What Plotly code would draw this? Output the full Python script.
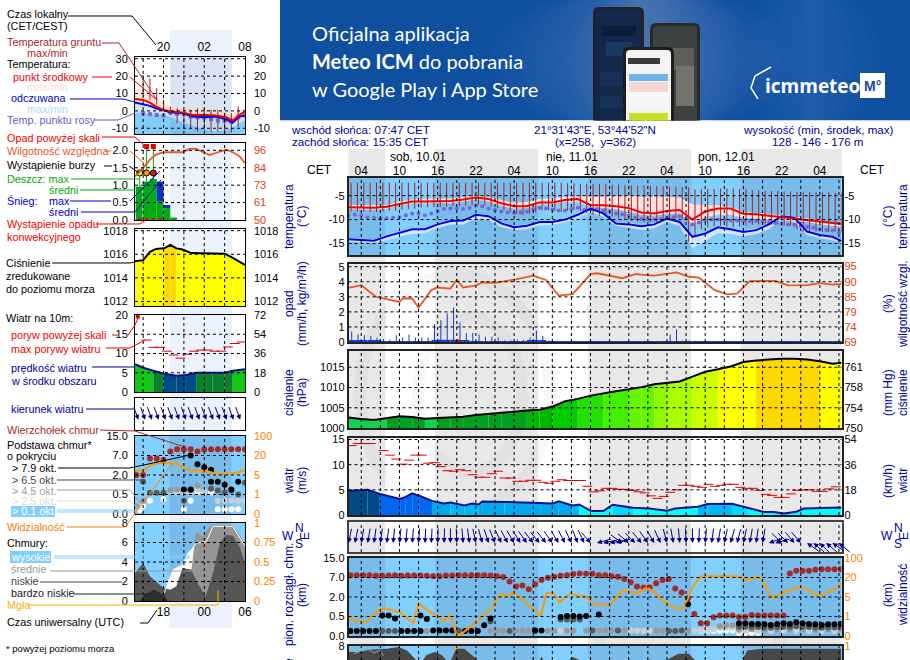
"""Meteogram page: legend column, forecast panels, app banner."""

import math

import plotly.graph_objects as go

# ---- time axes ------------------------------------------------------------
main_hours = list(range(2, 80))
step_hours = list(range(2, 80, 2)) + [79.4]
left_hours = list(range(16, 33))
sunrise_main = [7.78, 31.78, 55.78]
sunset_main = [15.58, 39.58, 63.58]

# ---- main temperature (deg C), 2-hourly ------------------------------------
temp_mid = [-7.4, -7.5, -7.5, -7.3, -6.7, -6.2, -6.2, -6.1, -6.1, -5.8, -5.4, -5.7, -6.6, -7.2, -7.2, -6.4, -6.4, -5.9, -5.7, -7, -7, -7.2, -7.6, -8.5, -8.7, -8.2, -8, -10, -8.3, -7.7, -7.7, -8.8, -8.9, -9.2, -9.5, -9.7, -10, -10.4, -10.7, -10.9]
temp_hi = [-7, -7, -7, -7, -6.2, -5.8, -5.7, -5.6, -5.6, -5.3, -5, -5.2, -5.9, -6.5, -6.3, -5.7, -5.6, -5.2, -5, -5.2, -5.2, -5.1, -5.1, -5.2, -5.2, -5.2, -5.4, -6.8, -7, -7, -7.3, -8.4, -8.6, -8.9, -9.1, -9.4, -9.7, -10.2, -10.6, -10.8]
temp_lo = [-7.8, -7.9, -7.9, -7.7, -7.1, -6.6, -6.6, -6.5, -6.6, -6.2, -5.8, -6.2, -7.1, -7.7, -7.6, -6.8, -6.8, -6.3, -6.2, -7.4, -7.5, -7.8, -8.4, -9, -9.2, -8.8, -8.7, -10.9, -9.5, -9, -9, -9.6, -9.7, -10, -10.1, -10.3, -10.5, -11, -11.3, -11.4]
feels_mid = [-14.1, -14.3, -14.4, -13.5, -12.8, -12, -12, -11, -10.3, -10.2, -9, -9.3, -10.8, -11.6, -11.3, -10.5, -10.5, -10, -9, -7.7, -8.7, -10.8, -11, -11.4, -11, -9.8, -10.5, -13.6, -12.9, -11.6, -12, -12.6, -12.2, -11, -9.3, -9.6, -12.5, -13.2, -13.6, -14.5]
feels_hi = [-13.9, -14, -14.1, -13.2, -12.5, -11.7, -11.7, -10.7, -10, -9.9, -8.7, -9, -10.5, -11.3, -11, -10.2, -10.2, -9.7, -8.7, -7.4, -8.4, -10.5, -10.7, -11.1, -10.7, -9.5, -10.2, -13.2, -12.5, -11.3, -11.7, -12.3, -11.8, -10.6, -9, -9.3, -12.2, -12.9, -13.3, -14.2]
feels_lo = [-14.6, -14.8, -14.9, -14.3, -13.6, -13, -12.8, -11.8, -11, -11, -9.8, -10.1, -11.6, -12.2, -12, -11.2, -11.1, -10.6, -9.7, -8.4, -9.4, -11.3, -11.7, -12.2, -11.8, -10.5, -11.3, -16, -14.5, -12.8, -13, -13.5, -13, -12, -10, -10.5, -13.2, -13.9, -14.3, -15]
dew_point = [-9.2, -9, -9.1, -9.5, -9.6, -9.7, -9.7, -9.6, -9.5, -9.1, -8.8, -8.8, -9.1, -8.7, -8.2, -7.8, -7.7, -7.7, -7.8, -7.6, -7.1, -7.2, -7.7, -8, -8.3, -8.5, -8.6, -8.5, -8.3, -7.9, -7.6, -7.7, -7.9, -8.1, -8.1, -7.8, -7.5, -8, -7.9, -7.8, -8.1, -8.4, -8.7, -8.9, -9.2, -9.6, -9.9, -10, -10, -9.9, -9.6, -9.5, -9.3, -9.8, -11, -10.6, -10.2, -10, -10, -10.1, -10.2, -10.2, -10.3, -10.3, -10.3, -10.4, -10.6, -10.7, -10.9, -11, -11.1, -11.3, -11.5, -11.7, -12, -12.2, -12.3, -12.7]
ground_top = [-2.3] * 34 + [-2.4, -2.4, -2.5, -2.5, -2.6, -2.6, -2.6, -2.7, -2.7, -2.8, -2.8, -2.9, -2.9, -3, -3, -3, -3.1, -3.1, -3.2, -3.3, -3.7, -3.7, -3.6, -3.6, -3.5, -3.5, -3.5, -3.6, -3.7, -3.8, -3.9, -4, -4, -4, -4.1, -4.1, -4.2, -4.2, -4.2, -4.3, -4.3, -4.3, -4.4, -4.4]
ground_bottom = [-8.3, -8.3, -8.4, -8.4, -8.4, -8.3, -8.2, -8.1, -7.9, -7.8, -7.7, -7.5, -7.4, -7.4, -7.4, -7.3, -7.2, -7.2, -7.1, -7, -6.9, -7, -7.2, -7.6, -8, -8.4, -8.8, -9, -8.8, -8.5, -8.1, -8, -8.2, -8.4, -8.1, -8, -8.2, -8.6, -9, -9.2, -9.2, -9.4, -9.7, -10, -10.2, -10.4, -10.5, -10.6, -10.5, -10.3, -10.1, -9.8, -9.9, -14.6, -13.2, -12, -11.6, -11.4, -11.3, -11.5, -11.5, -11.4, -11.2, -11.1, -11, -11.1, -11.1, -11, -11.2, -11.4, -12, -12.5, -12.5, -12.5, -12.6, -12.6, -12.5, -12.5]

# ---- main precipitation and humidity ----------------------------------------
precip_max = [0.7, 0.5, 0.45, 0.4, 0.3, 0.2, 0.15, 0.45, 0.3, 0.5, 0.3, 0.3, 0.3, 1.2, 1.45, 1.9, 2.3, 1.3, 0.6, 0.6, 0.5, 0.35, 0.35, 0.3, 0.1, 0.1, 0.15, 0.15, 0.3, 0.75, 0.4, 0.1, 0.03, 0.03, 0.03, 0.03, 0.03, 0.05, 0.06, 0.06, 0.03, 0.03, 0.03, 0.03, 0.03, 0.03, 0.03, 0.03, 0.04, 0.08, 0.5, 0.85, 0.1, 0.1, 0.03, 0.02, 0.02, 0.02, 0.02, 0.02, 0.02, 0.02, 0.02, 0.02, 0.02, 0.02, 0.02, 0.02, 0.02, 0.02, 0.02, 0.02, 0.02, 0.02, 0.02, 0.02, 0.02, 0.02]
precip_mean = [0.1, 0.12, 0.12, 0.1, 0.08, 0.05, 0.04, 0.03, 0.03, 0.03, 0.03, 0.03, 0.03, 0.1, 0.15, 0.15, 0.15, 0.12, 0.1, 0.05, 0.05, 0.04, 0.04, 0.04, 0.02, 0.03, 0.03, 0.05, 0.08, 0.12, 0.1, 0.03, 0.01, 0.01, 0.01, 0.01, 0.01, 0.05, 0.05, 0.05, 0.01, 0.01, 0.01, 0.01, 0.01, 0.01, 0.01, 0.01, 0.02, 0.02, 0.05, 0.05, 0.05, 0.03, 0.01, 0.01, 0.01, 0.01, 0.01, 0.01, 0.01, 0.01, 0.01, 0.01, 0.01, 0.01, 0.01, 0.01, 0.01, 0.01, 0.01, 0.01, 0.01, 0.01, 0.01, 0.01, 0.01, 0.01]
humidity_hours = [2, 4, 6.3, 8, 10, 10.5, 12, 13, 15, 16, 18, 19, 20, 22, 23, 25, 28.5, 31, 33, 35, 37.2, 40, 41, 45, 47, 50, 53.5, 55.5, 57, 59.5, 61.5, 63, 65, 69, 71, 74, 76, 78, 79.4]
humidity = [87.7, 88.6, 84.6, 83.8, 82.8, 84, 84, 80.8, 86.9, 87.8, 87.4, 90.4, 87.8, 88.4, 89.6, 89.4, 90.7, 91.9, 90.4, 85, 85.5, 92.4, 92.7, 91, 92.4, 91.9, 93, 91.5, 91.2, 86.9, 85.4, 85.7, 90, 90.1, 88.5, 88.6, 89.3, 88.8, 89]

# ---- main pressure and wind ---------------------------------------------------
pressure = [1002.6, 1002.2, 1002, 1002.5, 1002.9, 1002.7, 1002.3, 1002.5, 1002.7, 1002.8, 1003.2, 1003.5, 1003.7, 1004.1, 1004.3, 1004.5, 1005.3, 1006.6, 1007.2, 1008, 1008.6, 1009.1, 1009.6, 1010.1, 1010.8, 1011.1, 1011.5, 1012.7, 1013.9, 1014.5, 1015.2, 1016.3, 1016.7, 1016.9, 1017.1, 1017.1, 1016.9, 1016.5, 1015.9, 1016.1]
wind_hours = [2, 5, 6.9, 10.1, 11, 12, 13.2, 15.1, 17, 18, 20.2, 21.4, 22.4, 23, 26.5, 32.2, 34.1, 35, 37.2, 38.2, 40.1, 42, 43.5, 46.7, 49.2, 52, 53.3, 56.8, 58.4, 62.2, 64.7, 67.2, 68.8, 70.4, 72.3, 73.5, 79.4]
wind_speed = [4.8, 5, 4.2, 3.2, 3.6, 4.3, 3.8, 2.8, 2.3, 2.5, 1.9, 2.3, 2.1, 2.7, 2.6, 2.3, 2.3, 2.7, 1.9, 2.1, 0.8, 0.8, 2.05, 1.45, 1.3, 0.85, 1.3, 1.65, 2.2, 2.25, 1.5, 0.6, 0.6, 0.3, 0.65, 1.3, 1.5]
wind_gust = [13.8, 14.2, 14.2, 14.2, None, 12.8, 11.9, 11.1, 10.1, 10.9, 11.9, 11.9, 10.3, 10.4, 9.6, 8.8, 8.7, 9, 8.8, 8, 7.5, 7.5, 8.2, 8.7, 7.35, 7.35, 6.7, 6.7, 6.9, 6.9, 6.5, 6.3, 6.7, 7, 6.85, 6.85, 6.85, 5.7, 4.6, 4.8, 5.3, 5.3, 5.1, 5.1, 4.9, 4.6, 4.4, 3.8, 3.3, 3.7, 4.5, 5, 5.9, 5.9, 5.7, 5.5, 6.1, 5.7, 5.9, 6.1, 6.1, 5.5, 5.3, 5.3, 4.9, 4.1, 3.9, 3.5, 3.5, 4.2, 4.9, 5, 5, 4.7, 4.7, 5.2, 5.6]
wind_dir = [12, 12, 10, 10, 8, 8, 8, 6, 6, 5, 5, 4, 3, 3, 2, 2, 0, 358, 355, 352, 348, 345, 342, 338, 335, 332, 330, 328, 325, 322, 320, 322, 325, 328, 332, 335, 338, 335, 320, 75, 78, 80, 75, 305, 310, 315, 320, 325, 330, 335, 345, 350, 355, 358, 0, 2, 5, 8, 10, 12, 15, 15, 12, 10, 8, 10, 70, 75, 315, 315, 320, 320, 125, 130, 135, 130, 125, 130]

# ---- main cloud base / top, on the panel's tick scale (0.0 0.5 2 7 15 -> 0..4) --
cloud_top = [3.12, 3.12, 3.12, 3.12, 3.09, 3.09, 3.1, 3.12, 3.09, 3.1, 3.1, 3.1, 3.09, 3.07, 3.07, 3.1, 3.1, 3.12, 3.12, 3.12, 3.12, 3.12, 3.1, 3.07, 3.02, 2.8, 2.54, 2.59, 2.4, 2.66, 2.87, 2.99, 3.04, 3.09, 3.12, 3.18, 3.21, 3.19, 3.19, 3.12, 3.12, 3.06, 3.04, 2.92, 2.76, 2.54, 2.49, 2.49, 2.7, 2.87, 2.92, 2.44, 2.23, 1.94, 1.13, 0.65, 0.65, 0.96, 1.05, 1.05, 1.05, 0.98, 0.98, 1.08, 1.05, 1.05, 1.05, 1.05, 1.05, 3.21, 3.35, 3.35, 3.35, 3.4, 3.42, 3.42, 3.42, 3.42]
base_black_x = [2.3, 3.3, 4.3, 5.3, 6.3, 7.3, 8.3, 9.3, 10.3, 11.3, 12.3, 13.3, 13.3, 14.3, 15.3, 16.3, 17.3, 18.3, 20.3, 21.3, 22.3, 23.3, 24.3, 31.3, 32.3, 35.3, 36.3, 37.3, 38.3, 39.3, 41.3, 55.3, 63.3, 64.3, 65.3, 66.3, 67.3, 68.3, 69.3, 70.3, 71.3, 72.3, 73.3, 74.3, 75.3, 76.3, 77.3, 78.3, 79.3]
base_black_y = [0.26, 0.26, 0.26, 0.26, 0.26, 1.05, 1.05, 0.9, 0.26, 0.26, 0.26, 0.26, 1.05, 0.87, 0.28, 0.28, 0.28, 0.28, 0.26, 0.26, 0.26, 0.55, 0.9, 0.28, 0.28, 0.98, 1.02, 1.02, 1.0, 1.02, 1.1, 1.63, 0.65, 0.65, 0.62, 0.62, 0.6, 0.57, 0.62, 0.65, 0.62, 0.7, 0.65, 0.62, 0.6, 0.57, 0.6, 0.6, 0.62]
base_dark_x = [7.3, 8.3, 9.3, 19.3, 24.3, 27.3, 31.3, 35.3, 36.3, 37.3, 38.3, 40.3, 44.3, 52.3, 53.3, 54.3, 63.3, 64.3, 65.3, 66.3, 67.3, 68.3, 69.3, 70.3, 71.3, 72.3, 73.3, 74.3, 75.3, 76.3, 77.3, 78.3, 79.3]
base_dark_y = [0.26, 0.26, 0.26, 0.28, 0.75, 0.26, 0.27, 0.85, 0.85, 0.85, 0.85, 0.28, 0.28, 0.26, 0.26, 0.28, 0.48, 0.48, 0.46, 0.46, 0.44, 0.42, 0.46, 0.48, 0.46, 0.5, 0.48, 0.46, 0.44, 0.42, 0.44, 0.44, 0.46]
base_gray_x = [13.3, 14.3, 24.3, 25.3, 26.3, 28.3, 29.3, 30.3, 33.3, 34.3, 36.3, 37.3, 39.3, 41.3, 42.3, 43.3, 45.3, 50.3, 51.3, 55.3, 60.3, 61.3, 62.3, 63.3, 65.3, 67.3, 69.3, 71.3, 73.3, 75.3, 77.3, 79.3]
base_gray_y = [0.26, 0.26, 0.27, 0.27, 0.27, 0.27, 0.27, 0.27, 0.27, 0.27, 0.27, 0.27, 0.28, 0.27, 0.28, 0.27, 0.28, 0.27, 0.27, 0.27, 0.5, 0.55, 0.55, 0.34, 0.34, 0.32, 0.34, 0.34, 0.34, 0.32, 0.34, 0.34]
base_light_x = [35.3, 36.3, 46.3, 47.3, 48.3, 49.3, 56.3, 57.3, 58.3, 59.3, 60.3, 61.3, 62.3, 63.3, 64.3, 66.3, 68.3, 70.3, 72.3, 74.3, 76.3, 78.3]
base_light_y = [0.27, 0.27, 0.28, 0.28, 0.27, 0.27, 0.28, 0.3, 0.3, 0.35, 0.4, 0.42, 0.42, 0.25, 0.25, 0.25, 0.25, 0.25, 0.25, 0.25, 0.25, 0.25]
base_white_x = [57.3, 58.3, 59.3, 60.3, 61.3, 62.3, 63.3, 64.3, 65.3, 66.3]
base_white_y = [0.27, 0.27, 0.27, 0.27, 0.28, 0.28, 0.16, 0.16, 0.16, 0.16]
vis_hours = [2, 3.1, 4.7, 6, 6.9, 7.9, 10.1, 12.2, 13, 14.2, 15.4, 17, 18, 18.9, 19.6, 21.4, 22.7, 24, 25.9, 26.8, 27.9, 30, 32.2, 33.1, 34.2, 35.1, 36.9, 38.2, 39.1, 40.7, 43.2, 45.1, 47.3, 48.9, 50.2, 51.4, 53.3, 54.6, 56.2, 57.4, 63.1, 64.4, 66.3, 67.2, 68.3, 69.1, 71, 73.2, 75.4, 76.4, 79.4]
visibility = [0.98, 0.77, 0.69, 1.08, 1.37, 1.42, 1.2, 0.65, 1.68, 1.37, 1.13, 0.77, 1.05, 0.1, 0.07, 0.57, 0.91, 1.25, 2.16, 2.03, 2.25, 1.68, 1.03, 2.23, 2.2, 1.72, 2.2, 2.03, 2.06, 1.6, 1.63, 2.33, 2.2, 2.49, 2.2, 1.77, 1.42, 1.42, 2.63, 3.06, 3.06, 2.85, 3.06, 2.75, 1.97, 2.03, 2.33, 2.52, 2.11, 2.11, 2.59]

# ---- main cloud cover, only its top strip is on the page ---------------------------
cover_hours = [2, 3.9, 5.2, 8, 9.9, 11.2, 12.7, 13.5, 14.2, 15.5, 16.7, 17.4, 18, 18.9, 20.2, 21.4, 22.4, 23, 31.5, 32.3, 33, 36.6, 37.2, 38.8, 39.5, 50, 51.9, 53.8, 55.4, 56.5, 57, 63.6, 64.6, 66.9, 79.4]
cover_low = [7.38, 7.38, 7.62, 7.73, 7.9, 7.55, 6.5, 6.4, 7.04, 7.38, 7.04, 6.5, 6.4, 7.73, 7.73, 7.04, 6.5, 6, 6, 6.9, 6, 6.5, 6.87, 6.4, 6, 6, 6.53, 7.2, 7.2, 6.5, 6, 6.2, 7.55, 7.73, 7.73]
cirrus_hours = [2.8, 4, 5, 6, 7, 7.5]
cirrus = [7.2, 7.5, 7.7, 7.3, 7.55, 7]
fog_hours = [19]
fog = [8]

# ---- left column sample panels --------------------------------------------------------
l_t_hours = [15.8, 17, 18, 18.9, 20, 21, 22.8, 24.3, 26, 27.7, 29.2, 30.2, 31.2, 32]
l_temp = [6.9, 6.3, 4.8, 2.5, 0.6, -0.4, -1, -2.3, -2.3, -2.7, -3.7, -5.6, -2.3, -0.4]
l_feels = [4.8, 4, 2.9, 1.5, 0.2, -0.8, -1.3, -3.3, -3.7, -3.3, -4.8, -6.7, -3.3, -2.7]
l_temp_hi = [13.6, 10.5, 9.2, 6.5, 5.4, 2, 1.5, 1.5, 1.5, 1, -0.6, -2, 0.5, 2.5]
l_sky = [-0.8, -1.3, -1.8, -2.1, -2.3, -3.5, -6.5, -8.5, -10.5, -11.9, -11, -9.5, -7.1, -5.2]
l_dew_hours = [17, 18, 19, 20, 21, 22, 23, 24, 25, 26, 27, 28, 29, 30, 31, 32]
l_dew = [-1.3, -1.9, -2.3, -2.7, -1, -1.7, -1.7, -3.3, -3.7, -3.7, -4.8, -5.6, -5.6, -6.3, -3.7, -2.7]
l_ground_hours = [17, 18, 19, 20, 21, 22, 23, 24, 25, 26, 27, 28, 29, 30, 31]
l_ground_top = [19.8, 18.8, 13.1, 6.3, 2.5, 1.5, 0.6, 0.6, 1.5, 1.5, 0.6, 0.6, -1.3, -1.3, 2.5]
l_ground_bottom = [8.3, 6.3, 3.5, 0.6, -2.3, -7.1, -9, -10, -11.9, -11, -11.9, -11.9, -12.9, -12.5, -9]

l_h_hours = [15.8, 16.2, 17, 18, 18.9, 20, 22.8, 23.8, 24.8, 25.8, 26.8, 27.7, 29.2, 30.2, 31.2, 32]
l_humidity = [78.7, 81, 84.3, 89.8, 93.1, 94.7, 94.7, 96.9, 96.9, 94.7, 92.9, 94.2, 96.4, 94.7, 92, 87.6]
l_rain_hours = [16.4, 17.5, 18.5, 19.5, 20.5, 21.5]
l_rain = [0.96, 1.1, 1.18, 0.53, 0.34, 0.07]
l_snow_extra = [0, 0, 0, 0.57, 0.09, 0]
l_rain_max_hours = [16.5, 17.5, 18.5]
l_rain_max = [1.3, 2.11, 2.11]
l_over_hours = [17.5, 18.5]
l_over = [2.11, 2.11]
l_storm_hours = [16.5, 17.5, 18.5]
l_storm = [1.35, 1.35, 1.35]
l_storm_colors = ["#ffe600", "#ffa500", "#e01010"]

l_p_hours = [15.8, 17, 18, 18.9, 20.1, 21, 21.9, 22.8, 24.1, 29, 30.2, 32]
l_pressure = [1015.4, 1015.5, 1016.2, 1016.45, 1016.5, 1016.8, 1016.5, 1016.4, 1016.1, 1016.05, 1015.7, 1015.1]
l_w_hours = [15.8, 17, 18.5, 20, 21.9, 23.3, 24.8, 27.2, 29, 30.2, 32]
l_wind = [7.2, 6.3, 5.5, 4.8, 4.2, 4.4, 5, 4.92, 5, 5.5, 5.9]
l_gust_hours = [17.5, 18.5, 19.5, 20.5, 21.5, 22.5, 23.5, 24.5, 25.5, 26.5, 27.5, 28.5, 29.5, 30.5, 31.5]
l_gust = [13.5, 11.6, 11.6, 10.6, 9.6, 8.8, 9.8, 10.6, 10.9, 10.9, 10.6, 10.6, 11.7, 12.6, 13]
l_dir = [340, 340, 340, 340, 340, 340, 340, 340, 340, 340, 340, 340, 340, 340, 340, 340]

l_top = [2, 2, 2.85, 2.85, 2.77, 3.2, 3.32, 3.32, 3.32, 3.2, 3.32, 3.32, 3.32, 3.32, 3.32, 3.32, 3.32]
l_black_x = [23, 24, 24, 25, 26, 27, 27, 28, 29, 30, 31]
l_black_y = [1.26, 3, 1.26, 2.55, 2.4, 2.26, 1.66, 1.66, 1.5, 1.26, 1.66]
l_dark_x = [17, 18, 19, 20, 23, 24, 27, 28, 29, 30, 31, 32]
l_dark_y = [1.66, 1.09, 1.09, 1.09, 0.68, 1.23, 1.3, 1.2, 1.1, 1.2, 1, 1.6]
l_gray_x = [16, 17, 21, 22, 25, 26, 27]
l_gray_y = [0.38, 0.68, 1.23, 1.26, 1.45, 2.2, 2.3]
l_light_x = [21, 22, 23, 24, 25, 26, 28, 29, 30, 31, 32]
l_light_y = [1.18, 1.1, 1.1, 1.1, 1.25, 1.15, 0.68, 0.68, 0.68, 0.68, 0.68]
l_white_x = [16.5, 17, 18, 20, 24, 23, 28, 29, 30, 31, 25, 26, 27]
l_white_y = [0.2, 0.4, 0.68, 0.75, 0.68, 0.24, 0.24, 0.24, 0.24, 0.24, 1.12, 1.12, 1.12]
l_vis_hours = [15.8, 17, 18, 18.9, 21.9, 23.1, 24.3, 26.3, 27.7, 30.2, 31.2, 32]
l_vis = [2.22, 2.22, 2.48, 2.6, 2.6, 2.34, 2.22, 2.22, 2.05, 2.08, 2.17, 2.26]

l_high_hours = [20.1, 21.4, 22.8, 23.6, 24.3, 24.8, 26.3, 27.3, 30.2, 32]
l_high = [0.82, 3.2, 3.7, 4.9, 5.4, 5.95, 6.1, 7.66, 7.66, 5.6]
l_mid_hours = [22.7, 22.8, 24.1, 24.8, 25.8, 26.5, 27.3, 30.2, 32]
l_mid = [0, 3.3, 3.2, 7.1, 6.6, 7.4, 7.83, 7.83, 5.95]
l_low_hours = [15.8, 17, 18, 20, 21, 21.9, 22.8, 24.1, 25, 26.2, 27.3, 28.3, 29.2, 30.2, 31.2, 32]
l_low = [2.87, 3.9, 2.53, 1.33, 1.16, 1.5, 3.38, 3.2, 1.85, 0.48, 2.87, 5.95, 6.8, 6.7, 5.6, 3.9]
l_vlow_hours = [16.5, 17.2, 18.6, 20, 20.7]
l_vlow = [0, 0.65, 1.16, 0.65, 0]
l_fog_hours = [28, 29, 30, 31]
l_fog = [1.15, 1.15, 1.15, 1.15]

# ---- axis tick labels ------------------------------------------------------------
temp_ticks = [-5, -10, -15]
rain_ticks = [0, 1, 2, 3, 4, 5]
hum_vals = [69, 74.2, 79.4, 84.6, 89.8, 95]
hum_text = ["69", "74", "79", "85", "90", "95"]
press_ticks = [1000, 1005, 1010, 1015]
mmhg_vals = [750, 753.75, 757.5, 761.25]
mmhg_text = ["750", "754", "758", "761"]
wind_ticks = [0, 5, 10, 15]
kmh_vals = [0, 18, 36, 54]
base_pos = [0, 1, 2, 3, 4]
base_text = ["0.0", "0.5", "2.0", "7.0", "15.0"]
vis_text = ["0", "1", "5", "20", "100"]
main_grid_hours = list(range(4, 80, 3))
main_label_hours = list(range(4, 80, 6))
left_grid_hours = [17, 20, 23, 26, 29]
left_label_hours = [20, 26, 32]

FONT = "Liberation Sans"
NAVY = "#000099"
ORANGE = "#ff8000"
W, H = 910, 660
MAIN_X = (348.5, 841.5)
LEFT_X = (135, 245)
MAIN_RANGE = [2, 79.4]
LEFT_RANGE = [15.8, 32]

fig = go.Figure()
layout_axes = {}
shapes = []
annotations = []
axis_count = [0]


def px(x):
    return x / W


def py(y):
    return 1 - y / H


def new_axis():
    axis_count[0] += 1
    return axis_count[0]


def panel(x_span, top, bottom, x_range, y_range, ticks, tick_text=None, right_range=None, right_vals=None,
          right_text=None, right_color="black", line_color="black", line_width=1, left_pad=0, right_pad=2):
    """Lay out one panel, return (xref, yref, right yref)."""
    n = new_axis()
    m = new_axis()
    suffix = "" if n == 1 else str(n)
    layout_axes["xaxis" + suffix] = dict(
        domain=[px(x_span[0]), px(x_span[1])], range=x_range, anchor="y" + suffix, showgrid=False,
        zeroline=False, showticklabels=False, ticks="", showline=True, mirror=True,
        linecolor=line_color, linewidth=line_width,
    )
    layout_axes["yaxis" + suffix] = dict(
        domain=[py(bottom), py(top)], range=y_range, anchor="x" + suffix, showgrid=False, zeroline=False,
        tickmode="array", tickvals=ticks, ticktext=tick_text or [str(t) for t in ticks], ticks="",
        tickfont=dict(family=FONT, size=11, color="black"), showline=True, mirror=True,
        linecolor=line_color, linewidth=line_width, ticklabelstandoff=left_pad,
    )
    layout_axes["yaxis%d" % m] = dict(
        domain=[py(bottom), py(top)], range=right_range or y_range, anchor="x" + suffix, overlaying="y" + suffix,
        side="right", showgrid=False, zeroline=False, tickmode="array", tickvals=right_vals or ticks,
        ticktext=right_text or [str(t) for t in (right_vals or ticks)], ticks="",
        tickfont=dict(family=FONT, size=11, color=right_color), ticklabelstandoff=right_pad,
    )
    # keeps both scales drawn on panels with nothing plotted against them
    for yref, low in (("y" + suffix, y_range[0]), ("y%d" % m, (right_range or y_range)[0])):
        fig.add_trace(go.Scatter(x=[x_range[0]], y=[low], xaxis="x" + suffix, yaxis=yref, mode="markers",
                                 marker=dict(opacity=0, size=1), hoverinfo="skip", showlegend=False))
    return "x" + suffix, "y" + suffix, "y%d" % m


def grid(xref, yref, x_ticks, y_ticks, limits):
    for v in x_ticks:
        shapes.append(dict(type="line", xref=xref, yref=yref + " domain", x0=v, x1=v, y0=0, y1=1, layer="above",
                           line=dict(color="black", width=1, dash="3px,3px")))
    for v in y_ticks:
        if limits[0] < v < limits[1]:
            shapes.append(dict(type="line", xref=xref + " domain", yref=yref, x0=0, x1=1, y0=v, y1=v, layer="above",
                               line=dict(color="black", width=1, dash="3px,3px")))


def sky(xref, yref, nights, x_range, day="#80cfff", night="#78bcec"):
    shapes.append(dict(type="rect", xref=xref + " domain", yref=yref + " domain", x0=0, x1=1, y0=0, y1=1,
                       layer="below", line_width=0, fillcolor=day))
    for a, b in nights:
        shapes.append(dict(type="rect", xref=xref, yref=yref + " domain", x0=max(a, x_range[0]), x1=min(b, x_range[1]),
                           y0=0, y1=1, layer="below", line_width=0, fillcolor=night))


def line(xref, yref, xs, ys, color, width=2, **kw):
    fig.add_trace(go.Scatter(x=xs, y=ys, xaxis=xref, yaxis=yref, mode="lines", line=dict(color=color, width=width),
                             hoverinfo="skip", showlegend=False, **kw))


def spikes(xref, yref, xs, lows, highs, color, width=1):
    px_x, px_y = [], []
    for x, a, b in zip(xs, lows, highs):
        px_x += [x, x, None]
        px_y += [a, b, None]
    line(xref, yref, px_x, px_y, color, width=width)


def band(xref, yref, xs, lo, hi, color):
    fig.add_trace(go.Scatter(x=list(xs) + list(xs)[::-1], y=list(hi) + list(lo)[::-1], xaxis=xref, yaxis=yref,
                             mode="none", fill="toself", fillcolor=color, hoverinfo="skip", showlegend=False))


def area(xref, yref, xs, ys, color):
    fig.add_trace(go.Scatter(x=xs, y=ys, xaxis=xref, yaxis=yref, mode="none", fill="tozeroy", fillcolor=color,
                             hoverinfo="skip", showlegend=False))


def colored_area(xref, yref, xs, ys, color_of):
    for i in range(len(xs) - 1):
        area(xref, yref, xs[i:i + 2], ys[i:i + 2], color_of((ys[i] + ys[i + 1]) / 2))


def dots(xref, yref, xs, ys, color, size=6, symbol="circle"):
    fig.add_trace(go.Scatter(x=xs, y=ys, xaxis=xref, yaxis=yref, mode="markers",
                             marker=dict(color=color, size=size, symbol=symbol, line=dict(width=0)),
                             hoverinfo="skip", showlegend=False))


def dashes(xref, yref, xs, ys, size=7):
    fig.add_trace(go.Scatter(x=xs, y=ys, xaxis=xref, yaxis=yref, mode="markers",
                             marker=dict(symbol="line-ew", size=size, line=dict(color="#e00000", width=1)),
                             hoverinfo="skip", showlegend=False))


def bars(xref, yref, xs, ys, color, width, base=None):
    fig.add_trace(go.Bar(x=xs, y=ys, base=base, xaxis=xref, yaxis=yref, width=width, marker=dict(color=color, line_width=0),
                         hoverinfo="skip", showlegend=False))


def arrows(xref, yref, hours, bearings, length, height):
    for h, b in zip(hours, bearings):
        rad = math.radians(b)
        annotations.append(dict(x=h, y=height, xref=xref, yref=yref + " domain", text="", showarrow=True,
                                ax=length * math.sin(rad), ay=-length * math.cos(rad), arrowcolor="#000090",
                                arrowhead=2, arrowsize=1, arrowwidth=1, standoff=0))


def txt(x, y, s, color="black", size=10.8, anchor="left", angle=0, family=FONT, bg=None):
    annotations.append(dict(x=px(x), y=py(y), xref="paper", yref="paper", text=s, showarrow=False, xanchor=anchor,
                            yanchor="middle", textangle=angle, align=anchor, bgcolor=bg, borderpad=0,
                            font=dict(family=family, size=size, color=color)))


def leader(points, color="black", width=1):
    path = "M " + " L ".join("%.5f %.5f" % (px(a), py(b)) for a, b in points)
    shapes.append(dict(type="path", xref="paper", yref="paper", path=path, layer="above",
                       line=dict(color=color, width=width)))


def rounded(x0, x1, y0, y1, r, color):
    """Phone body on the banner, cut square by the banner bottom."""
    pts = "M %.5f %.5f L %.5f %.5f Q %.5f %.5f %.5f %.5f L %.5f %.5f Q %.5f %.5f %.5f %.5f L %.5f %.5f Z" % (
        px(x0), py(y1), px(x0), py(y0 + r), px(x0), py(y0), px(x0 + r), py(y0), px(x1 - r), py(y0),
        px(x1), py(y0), px(x1), py(y0 + r), px(x1), py(y1))
    shapes.append(dict(type="path", xref="paper", yref="paper", path=pts, layer="above", line_width=0, fillcolor=color))


def block(x0, x1, y0, y1, color):
    shapes.append(dict(type="rect", xref="paper", yref="paper", x0=px(x0), x1=px(x1), y0=py(y1), y1=py(y0), layer="above",
                       line_width=0, fillcolor=color))


def pressure_color(p):
    steps = [(1002.45, "#12d050"), (1004.4, "#00a020"), (1005.5, "#00b800"), (1007.5, "#00cc00"), (1008.6, "#22e000"),
             (1009.5, "#44f000"), (1010.5, "#66f400"), (1011.2, "#90f800"), (1012.5, "#aaff00"), (1014.3, "#ccff00"),
             (1016.6, "#ffff00")]
    for limit, color in steps:
        if p < limit:
            return color
    return "#ffd800"


def main_wind_color(v):
    steps = [(1.6, "#00ffff"), (1.9, "#00d8ff"), (2.3, "#00b8f8"), (2.75, "#00a8f0"), (4.15, "#0068f0")]
    for limit, color in steps:
        if v < limit:
            return color
    return "#004a88"


def left_wind_color(v):
    if v < 4.95:
        return "#004a88"
    if v < 5.7:
        return "#0a8030"
    return "#12c812"


# ---- page backgrounds --------------------------------------------------------------
main_scale = (MAIN_X[1] - MAIN_X[0]) / (MAIN_RANGE[1] - MAIN_RANGE[0])


def main_px(h):
    return MAIN_X[0] + (h - MAIN_RANGE[0]) * main_scale


main_nights = [(0, sunrise_main[0]), (sunset_main[0], sunrise_main[1]), (sunset_main[1], sunrise_main[2]), (sunset_main[2], 90)]
for a, b in main_nights:
    shapes.append(dict(type="rect", xref="paper", yref="paper", x0=px(main_px(max(a, 2))), x1=px(main_px(min(b, 79.4))),
                       y0=0, y1=py(149), layer="below", line_width=0, fillcolor="#e8e8e8"))
shapes.append(dict(type="rect", xref="paper", yref="paper", x0=px(170), x1=px(232), y0=py(628), y1=py(30),
                   layer="below", line_width=0, fillcolor="#ebf2fd"))
# faint watermark rings behind the panels
for cx, cy, rx, ry in [(455, 395, 95, 120), (470, 395, 52, 78), (690, 640, 90, 110)]:
    shapes.append(dict(type="circle", xref="paper", yref="paper", x0=px(cx - rx), x1=px(cx + rx), y0=py(cy + ry), y1=py(cy - ry),
                       layer="below", line=dict(color="rgba(90,90,90,0.05)", width=12), fillcolor="rgba(0,0,0,0)"))

# ---- main temperature ----------------------------------------------------------------
xa, ya, yb = panel(MAIN_X, 177.5, 255, MAIN_RANGE, [-17.4, -1.2], temp_ticks, line_color="#222", line_width=1.5)
layout_axes["xaxis"].update(side="top", showticklabels=True, tickmode="array", tickvals=main_label_hours,
                            ticktext=["%02d" % (h % 24) for h in main_label_hours], ticklabelstandoff=-4,
                            tickfont=dict(family=FONT, size=12, color="black"))
sky(xa, ya, main_nights, MAIN_RANGE)
band(xa, ya, step_hours, temp_lo, temp_hi, "#fde0de")
band(xa, ya, step_hours, feels_lo, feels_hi, "#cfe6f8")
spikes(xa, ya, [h + 0.4 for h in main_hours], ground_bottom, ground_top, "#a82020")
dots(xa, ya, main_hours, dew_point, "#7565d8", size=4)
line(xa, ya, step_hours, feels_mid, "#0000f0")
line(xa, ya, step_hours, temp_mid, "#f00000")
grid(xa, ya, main_grid_hours, temp_ticks, (-17.4, -1.2))

# ---- main precipitation -------------------------------------------------------------
xa, ya, yb = panel(MAIN_X, 264, 342, MAIN_RANGE, [0, 5.18], rain_ticks, right_range=[69, 95.9], right_vals=hum_vals,
                   right_text=hum_text, right_color="#e04010", line_color="#222", line_width=1.5)
bars(xa, ya, [h + 0.5 for h in main_hours], precip_mean, "#1040c8", 1)
spikes(xa, ya, [h + 0.5 for h in main_hours], [0] * len(precip_max), precip_max, "#1040c8")
dots(xa, ya, [19.2], [0.03], "#e00000", size=4, symbol="square")
line(xa, yb, humidity_hours, humidity, "#e85820", width=1.8)
grid(xa, ya, main_grid_hours, rain_ticks, (0, 5.18))

# ---- main pressure -------------------------------------------------------------------
xa, ya, yb = panel(MAIN_X, 350.7, 428, MAIN_RANGE, [1000, 1019.1], press_ticks, right_range=[750, 764.3], right_vals=mmhg_vals,
                   right_text=mmhg_text, line_color="#222", line_width=1.5)
colored_area(xa, ya, step_hours, pressure, pressure_color)
line(xa, ya, step_hours, pressure, "black")
grid(xa, ya, main_grid_hours, press_ticks, (1000, 1019.1))

# ---- main wind --------------------------------------------------------------------------
xa, ya, yb = panel(MAIN_X, 438, 515, MAIN_RANGE, [0, 15.3], wind_ticks, right_range=[0, 55.1], right_vals=kmh_vals,
                   line_color="#222", line_width=1.5)
colored_area(xa, ya, wind_hours, wind_speed, main_wind_color)
line(xa, ya, wind_hours, wind_speed, "#101090")
dashes(xa, ya, [h + 0.5 for h in main_hours], wind_gust)
grid(xa, ya, main_grid_hours, wind_ticks, (0, 15.3))

# ---- main wind direction -------------------------------------------------------------
xa, ya, yb = panel(MAIN_X, 522, 552, MAIN_RANGE, [0, 1], [], line_color="#444", line_width=1.5)
arrows(xa, ya, main_hours, wind_dir, 16, 0.3)
grid(xa, ya, main_grid_hours, [], (0, 1))

# ---- main cloud base -------------------------------------------------------------------
xa, ya, yb = panel(MAIN_X, 558, 636, MAIN_RANGE, [0, 4], base_pos, tick_text=base_text, right_text=vis_text,
                   right_color=ORANGE, line_color="#222", line_width=1.5)
sky(xa, ya, main_nights, MAIN_RANGE)
dots(xa, ya, [h + 0.3 for h in main_hours], cloud_top, "#a52a2a")
dots(xa, ya, base_white_x, base_white_y, "white")
dots(xa, ya, base_light_x, base_light_y, "#cfcfcf")
dots(xa, ya, base_gray_x, base_gray_y, "#999999")
dots(xa, ya, base_dark_x, base_dark_y, "#5a5a5a")
dots(xa, ya, base_black_x, base_black_y, "black")
line(xa, yb, vis_hours, visibility, "#ff9900")
grid(xa, ya, main_grid_hours, base_pos, (0, 4))

# ---- main cloud cover, cut by the page edge ------------------------------------------
xa, ya, yb = panel(MAIN_X, 646, 660, MAIN_RANGE, [6.56, 8], [8], right_vals=[8], right_text=["1"], right_color=ORANGE,
                   line_color="#222", line_width=1.5)
sky(xa, ya, main_nights, MAIN_RANGE)
area(xa, ya, cover_hours, cover_low, "#484848")
line(xa, ya, cirrus_hours, cirrus, "#a0a0a0", width=1)
bars(xa, ya, fog_hours, fog, "#ff9c00", 0.55)
bars(xa, ya, fog_hours, fog, "#ffd040", 0.2)
grid(xa, ya, main_grid_hours, [], (6.56, 8))

# ---- left temperature -----------------------------------------------------------------
l_nights = [(20.9, 30)]
xa, ya, yb = panel(LEFT_X, 57, 134, LEFT_RANGE, [-13.3, 31], [-10, 0, 10, 20, 30], left_pad=4, right_pad=8)
layout_axes["xaxis%s" % xa[1:]].update(side="top", showticklabels=True, tickmode="array", tickvals=left_label_hours,
                                       ticktext=["20", "02", "08"], tickfont=dict(family=FONT, size=12, color="black"))
band(xa, ya, l_t_hours, l_feels, l_temp_hi, "#fde6da")
band(xa, ya, l_t_hours, [-13.3] * len(l_t_hours), l_feels, "#d0e8fa")
band(xa, ya, l_t_hours, [-13.3] * len(l_t_hours), l_sky, "#84cdfb")
spikes(xa, ya, l_ground_hours, l_ground_bottom, l_ground_top, "#a82020")
dots(xa, ya, l_dew_hours, l_dew, "#7565d8", size=4, symbol="square")
line(xa, ya, l_t_hours, l_feels, "#0000f0")
line(xa, ya, l_t_hours, l_temp, "#f00000")
shapes.append(dict(type="rect", xref=xa, yref=ya + " domain", x0=20.9, x1=30, y0=0, y1=1, layer="above", line_width=0,
                   fillcolor="rgba(0,50,130,0.07)"))
grid(xa, ya, left_grid_hours, [-10, 0, 10, 20, 30], (-13.3, 31))

# ---- left precipitation ----------------------------------------------------------------
xa, ya, yb = panel(LEFT_X, 143, 220, LEFT_RANGE, [0, 2.21], [0, 0.5, 1, 1.5, 2], tick_text=["0.0", "0.5", "1.0", "1.5", "2.0"],
                   right_range=[50, 100.8], right_vals=[50, 61.5, 73, 84.5, 96], right_text=["50", "61", "73", "84", "96"],
                   right_color="#e04010", left_pad=4, right_pad=8)
bars(xa, ya, l_rain_hours, l_rain, "#00aa14", 1)
bars(xa, ya, l_rain_hours, l_snow_extra, "#1030c8", 1, base=l_rain)
spikes(xa, ya, l_rain_max_hours, [0] * 3, l_rain_max, "#00aa14")
dots(xa, ya, l_over_hours, l_over, "#e80000", size=5, symbol="square")
fig.add_trace(go.Scatter(x=l_storm_hours, y=l_storm, xaxis=xa, yaxis=ya, mode="markers", hoverinfo="skip", showlegend=False,
                         marker=dict(color=l_storm_colors, size=6, line=dict(color="black", width=1))))
dots(xa, ya, [16.5, 17.5, 18.5, 19.5], [0.01, 0.01, 0.01, 0.01], "#e80000", size=3, symbol="square")
line(xa, yb, l_h_hours, l_humidity, "#e85820", width=1.8)
grid(xa, ya, left_grid_hours, [0.5, 1, 1.5, 2], (0, 2.21))

# ---- left pressure -----------------------------------------------------------------------
xa, ya, yb = panel(LEFT_X, 229, 306, LEFT_RANGE, [1011.62, 1018.14], [1012, 1014, 1016, 1018], left_pad=4, right_pad=8)
colored_area(xa, ya, l_p_hours, l_pressure, lambda p: "#ffd800" if p > 1016.6 else "#ffff00")
line(xa, ya, l_p_hours, l_pressure, "black")
grid(xa, ya, left_grid_hours, [1012, 1014, 1016, 1018], (1011, 1019))

# ---- left wind ----------------------------------------------------------------------------
xa, ya, yb = panel(LEFT_X, 315, 392, LEFT_RANGE, [0, 20], [0, 5, 10, 15, 20], right_range=[0, 72], right_vals=[0, 18, 36, 54, 72],
                   left_pad=4, right_pad=8)
colored_area(xa, ya, l_w_hours, l_wind, left_wind_color)
line(xa, ya, l_w_hours, l_wind, "#101090")
dashes(xa, ya, l_gust_hours, l_gust)
dots(xa, ya, [16.2], [19.6], "#e80000", size=4, symbol="square")
grid(xa, ya, left_grid_hours, [5, 10, 15], (0, 20))

# ---- left wind direction ----------------------------------------------------------------
xa, ya, yb = panel(LEFT_X, 398, 430, LEFT_RANGE, [0, 1], [])
arrows(xa, ya, [h + 0.3 for h in left_hours], l_dir, 15, 0.32)
grid(xa, ya, left_grid_hours, [], (0, 1))

# ---- left cloud base -----------------------------------------------------------------------
xa, ya, yb = panel(LEFT_X, 436, 514, LEFT_RANGE, [0, 4], base_pos, tick_text=base_text, right_text=vis_text, right_color=ORANGE,
                   left_pad=4, right_pad=8)
sky(xa, ya, l_nights, LEFT_RANGE)
dots(xa, ya, left_hours, l_top, "#a52a2a")
dots(xa, ya, l_white_x, l_white_y, "white")
dots(xa, ya, l_light_x, l_light_y, "#cfcfcf")
dots(xa, ya, l_gray_x, l_gray_y, "#999999")
dots(xa, ya, l_dark_x, l_dark_y, "#5a5a5a")
dots(xa, ya, l_black_x, l_black_y, "black")
line(xa, yb, l_vis_hours, l_vis, "#ff9900")
grid(xa, ya, left_grid_hours, base_pos, (0, 4))

# ---- left cloud cover ------------------------------------------------------------------------
xa, ya, yb = panel(LEFT_X, 523, 601, LEFT_RANGE, [0, 8], [0, 2, 4, 6, 8], right_vals=[0, 2, 4, 6, 8],
                   right_text=["0", "0.25", "0.5", "0.75", "1"], right_color=ORANGE, left_pad=4, right_pad=8)
layout_axes["xaxis%s" % xa[1:]].update(showticklabels=True, tickmode="array", tickvals=left_label_hours,
                                       ticktext=["18", "00", "06"], tickfont=dict(family=FONT, size=12, color="black"))
sky(xa, ya, l_nights, LEFT_RANGE)
area(xa, ya, l_high_hours, l_high, "white")
area(xa, ya, l_mid_hours, l_mid, "#959595")
area(xa, ya, l_low_hours, l_low, "#565656")
area(xa, ya, l_vlow_hours, l_vlow, "#2e2e2e")
line(xa, ya, l_high_hours, l_high, "white", width=1)
bars(xa, ya, l_fog_hours, l_fog, "#ffb000", 0.4)
grid(xa, ya, left_grid_hours, [2, 4, 6], (0, 8))

# ---- banner -------------------------------------------------------------------------------
shapes.append(dict(type="rect", xref="paper", yref="paper", x0=px(280), x1=1, y0=py(120.5), y1=1, layer="below",
                   line_width=0, fillcolor="#0e4fa0"))
# soft glow built from stacked translucent ellipses
for cx, top_rx, n, alpha in [(640, 150, 14, 0.016), (810, 70, 8, 0.012), (660, 90, 8, 0.012)]:
    for i in range(n):
        rx = top_rx * (i + 1) / n
        shapes.append(dict(type="circle", xref="paper", yref="paper", x0=px(cx - rx), x1=px(cx + rx), y0=py(135), y1=py(-15),
                           layer="below", line_width=0, fillcolor="rgba(255,255,255,%.3f)" % alpha))
shapes.append(dict(type="rect", xref="paper", yref="paper", x0=px(280), x1=1, y0=py(149), y1=py(120.5), layer="below",
                   line_width=0, fillcolor="white"))
for x0, x1, y0, edge, screen in [(593, 644, 7, "#20242a", "#13294b"), (650, 700, 23, "#2a2a2a", "#3d4240")]:
    rounded(x0, x1, y0, 120.5, 6, edge)
    rounded(x0 + 3, x1 - 3, y0 + 3, 120.5, 4, screen)
block(602, 636, 26, 36, "#0c1e3a")
block(606, 632, 42, 56, "#1c3760")
block(600, 638, 72, 86, "#16305a")
block(600, 638, 96, 108, "#16305a")
block(656, 694, 48, 70, "#5c6058")
block(676, 694, 66, 106, "#71736a")
rounded(623, 674, 47, 120.5, 6, "#1d1d1f")
rounded(626, 671, 50, 120.5, 4, "#f4f4f4")
block(628, 660, 58, 64, "#3a3a3a")
block(629, 668, 74, 81, "#70b4e8")
block(629, 668, 82, 92, "#f4d8d4")
block(629, 668, 94, 108, "#f6f6f6")
block(629, 668, 113, 120.5, "#c8e020")
block(860, 885, 73, 98, "white")
leader([(771, 67), (755, 76), (751, 88), (758, 99)], "white", 1.5)
BANNER = "Lato"
txt(311, 33, "Oficjalna aplikacja", "white", 20, family=BANNER)
txt(311, 60.5, "<b>Meteo ICM</b> do pobrania", "white", 20, family=BANNER)
txt(311, 89, "w Google Play i App Store", "white", 20, family=BANNER)
txt(764, 86, "<b>icmmeteo</b>", "white", 19, family="Open Sans")
txt(872.5, 86, "<b>M°</b>", "#0e4fa0", 14, anchor="center")

# ---- heading texts ----------------------------------------------------------------------------
txt(290, 129, "wschód słońca: 07:47 CET", NAVY, 11.6)
txt(291, 142, "zachód słońca: 15:35 CET", NAVY, 11.6)
txt(595, 129, "21°31'43\"E, 53°44'52\"N", NAVY, 11.6, anchor="center")
txt(595, 142, "(x=258,  y=362)", NAVY, 11.6, anchor="center")
txt(818, 129, "wysokość (min, środek, max)", NAVY, 11.6, anchor="center")
txt(818, 142, "128 - 146 - 176 m", NAVY, 11.6, anchor="center")
txt(418, 157, "sob, 10.01", "black", 12, anchor="center")
txt(572, 157, "nie, 11.01", "black", 12, anchor="center")
txt(726, 157, "pon, 12.01", "black", 12, anchor="center")
txt(319, 170, "CET", "black", 12, anchor="center")
txt(872, 170, "CET", "black", 12, anchor="center")

for y, a, b, c, d in [(217, "temperatura", "(°C)", "(°C)", "temperatura"), (304, "opad", "(mm/h, kg/m³/h)", "(%)", "wilgotność wzgl."),
                      (393, "ciśnienie", "(hPa)", "(mm Hg)", "ciśnienie"), (481, "wiatr", "(m/s)", "(km/h)", "wiatr"),
                      (595, "pion. rozciągł. chm.", "(km)", "(km)", "widzialność")]:
    txt(289, y, a, NAVY, 12, anchor="center", angle=-90)
    txt(302, y, b, NAVY, 12, anchor="center", angle=-90)
    txt(888, y, c, NAVY, 12, anchor="center", angle=-90)
    txt(903, y, d, NAVY, 12, anchor="center", angle=-90)
txt(289, 681, "pokrycie", NAVY, 12, anchor="center", angle=-90)
for cx in (288, 887):
    txt(cx, 536, "W", NAVY, 12, anchor="center")
    txt(cx + 11, 528, "N", NAVY, 12, anchor="center")
    txt(cx + 11, 544, "S", NAVY, 12, anchor="center")
    txt(cx + 17, 536, "E", NAVY, 12, anchor="center", angle=-90)

# ---- legend column --------------------------------------------------------------------------
BROWN = "#a52a2a"
RED = "#f00000"
ROSE = "#e85820"
GREEN = "#00aa00"
BLUE = "#0000d0"
txt(6, 14, "Czas lokalny")
txt(6, 26, "(CET/CEST)")
leader([(68, 16), (132, 16), (156, 45)])
txt(6, 42, "Temperatura gruntu", BROWN)
txt(47, 52.5, "max/min", BROWN, anchor="center")
leader([(102, 43), (119, 43), (157, 100)], BROWN)
txt(6, 64, "Temperatura:")
txt(12, 76.5, "punkt środkowy", RED)
leader([(92, 77), (112, 77)], RED)
leader([(130, 77), (157, 100)], RED)
txt(47, 87, "max/min", "#fde0cc", anchor="center")
txt(10, 98.5, "odczuwana", BLUE)
leader([(70, 99), (123, 99), (135, 102)], BLUE)
txt(47, 109, "max/min", "#a8dcf8", anchor="center")
txt(6, 120, "Temp. punktu rosy", "#6a5acd")
leader([(94, 120), (118, 120), (135, 113)], "#6a5acd")
txt(6, 137.5, "Opad powyżej skali", RED)
leader([(102, 137), (135, 137), (146, 147)], RED)
txt(6, 151, "Wilgotność względna", ROSE)
leader([(105, 151), (111, 151)], ROSE)
leader([(130, 151), (144, 163)], ROSE)
txt(6, 165, "Wystąpienie burzy")
leader([(104, 166), (112, 166)])
leader([(129, 166), (139, 173)])
txt(6, 179, "Deszcz: max", GREEN)
leader([(71, 179), (139, 179)], GREEN)
txt(48, 190, "średni", GREEN)
leader([(80, 190), (135, 190)], GREEN)
txt(6, 201, "Śnieg:", BLUE)
txt(48, 201, "max", BLUE)
leader([(70, 201), (111, 201)], BLUE)
leader([(130, 201), (160, 171)], BLUE)
txt(48, 212, "średni", BLUE)
leader([(81, 212), (135, 212), (161, 180)], BLUE)
txt(6, 224, "Wystąpienie opadu", RED)
leader([(96, 224), (140, 224), (146, 220)], RED)
txt(6, 237, "konwekcyjnego", RED)
txt(5, 263.5, "Ciśnienie")
txt(5, 276, "zredukowane")
txt(5, 289, "do poziomu morza")
leader([(52, 263), (130, 263), (135, 262)])
txt(5, 318, "Wiatr na 10m:")
txt(10, 334.5, "poryw powyżej skali", RED)
leader([(112, 335), (118, 335)], RED)
leader([(128, 335), (135, 325), (139, 316)], RED)
txt(10, 348.5, "max porywy wiatru", RED)
leader([(106, 348), (130, 348), (145, 340)], RED)
txt(10, 368, "prędkość wiatru", NAVY)
leader([(92, 367), (135, 367)], NAVY)
txt(10, 381, "w środku obszaru", NAVY)
txt(10, 409, "kierunek wiatru", NAVY)
leader([(86, 409), (135, 409)], NAVY)
txt(6, 429.5, "Wierzchołek chmur", BROWN)
leader([(100, 430), (135, 431), (185, 447)], BROWN)
txt(6, 444.5, "Podstawa chmur*")
txt(6, 456, "o pokryciu")
txt(11, 468, "> 7.9 okt.")
leader([(58, 468), (130, 468), (190, 455)])
txt(11, 479.5, "> 6.5 okt.", "#444444")
leader([(57, 480), (143, 480)], "#444444")
txt(11, 490.5, "> 4.5 okt.", "#a0a0a0")
leader([(57, 490), (130, 490), (140, 503)], "#a0a0a0")
txt(11, 500.5, "> 2.5 okt.", "#dcdcdc")
leader([(57, 501), (130, 501), (140, 510)], "#d8d8d8")
shapes.append(dict(type="rect", xref="paper", yref="paper", x0=px(11), x1=px(55), y0=py(517), y1=py(506), layer="below",
                   line_width=0, fillcolor="#80cfff"))
txt(11, 511, "> 0.1 okt.", "white")
leader([(57, 510), (135, 510)], "#80cfff")
leader([(57, 512), (135, 512)], "#80cfff")
txt(6, 526.5, "Widzialność", ORANGE)
leader([(67, 527), (125, 527), (172, 464)], ORANGE)
txt(6, 543, "Chmury:")
shapes.append(dict(type="rect", xref="paper", yref="paper", x0=px(10), x1=px(51), y0=py(563), y1=py(551), layer="below",
                   line_width=0, fillcolor="#80cfff"))
txt(10, 557, "wysokie", "white")
leader([(54, 556), (190, 556)], "#80cfff")
leader([(54, 558), (190, 558)], "#80cfff")
txt(10, 569, "średnie", "#999999")
leader([(50, 571), (193, 571)], "#999999")
txt(10, 581, "niskie", "#444444")
leader([(40, 582), (122, 582)], "#444444")
txt(10, 593, "bardzo niskie", "#222222")
leader([(74, 594), (150, 594)], "#222222")
txt(6, 605, "Mgła", "#ffb000")
leader([(27, 605), (218, 605), (218, 590)], "#ffb000")
txt(6, 622, "Czas uniwersalny (UTC)")
leader([(140, 623), (148, 623), (157, 610)])
txt(5, 648, "* powyżej poziomu morza", "black", 9.5)

fig.update_layout(
    width=W, height=H, margin=dict(l=0, r=0, t=0, b=0, autoexpand=False), paper_bgcolor="white",
    plot_bgcolor="rgba(0,0,0,0)", barmode="overlay", showlegend=False, shapes=shapes, annotations=annotations, **layout_axes,
)
fig.write_html("out.html", config={"displayModeBar": False},
               post_script="document.body.style.margin='0';document.body.style.overflow='hidden';")
